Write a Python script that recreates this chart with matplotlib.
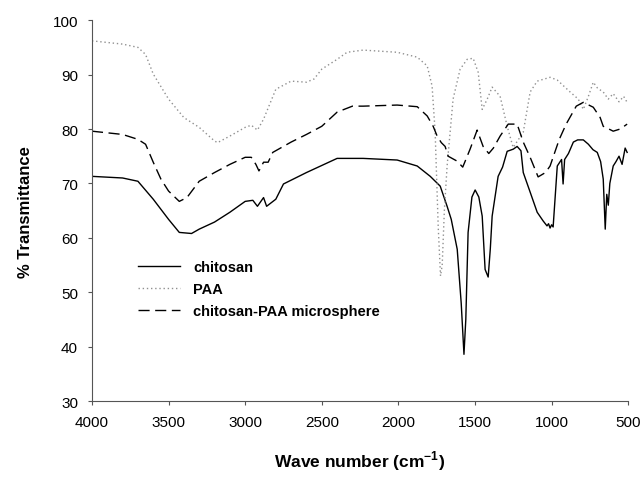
import matplotlib.pyplot as plt

plt.rcParams['font.family'] = ['Liberation Sans', 'DejaVu Sans']
plt.rcParams['mathtext.fontset'] = 'custom'
plt.rcParams['mathtext.bf'] = 'Liberation Sans:bold'

# chitosan (solid)
chit_w = [4000, 3800, 3700, 3600, 3500, 3430, 3350, 3300, 3200, 3100, 3000, 2950, 2920, 2880,
          2860, 2800, 2750, 2600, 2500, 2400, 2300, 2230, 2008, 1877, 1792, 1727, 1682, 1655,
          1616, 1590, 1572, 1560, 1545, 1520, 1499, 1475, 1453, 1434, 1414, 1400, 1388, 1349,
          1320, 1290, 1250, 1225, 1200, 1185, 1140, 1094, 1055, 1030, 1020, 1010, 1000, 990,
          963, 935, 925, 915, 890, 858, 830, 793, 760, 730, 702, 680, 663, 650, 640, 630, 620,
          598, 580, 560, 540, 520, 507]
chit_t = [71.3, 71.0, 70.4, 67.1, 63.4, 61.0, 60.8, 61.6, 62.9, 64.7, 66.7, 66.9, 65.8, 67.4,
          65.8, 67.1, 69.9, 72.0, 73.3, 74.6, 74.6, 74.6, 74.3, 73.2, 71.3, 69.5, 65.8, 63.4,
          57.9, 48.0, 38.6, 45.0, 61.0, 67.5, 68.8, 67.5, 64.0, 54.2, 52.8, 58.0, 64.0, 71.3,
          73.0, 75.9, 76.3, 76.8, 76.0, 72.0, 68.4, 64.7, 63.1, 62.2, 62.6, 61.8, 62.4, 62.0,
          73.2, 74.4, 69.9, 74.4, 75.5, 77.6, 78.0, 78.0, 77.2, 76.2, 75.7, 74.0, 70.8, 61.6,
          68.0, 66.0, 70.0, 73.2, 74.0, 75.0, 73.5, 76.5, 75.7]

# PAA (dotted)
paa_w = [4000, 3800, 3700, 3650, 3600, 3500, 3400, 3300, 3200, 3180, 3100, 3000, 2960, 2920,
         2880, 2800, 2700, 2600, 2550, 2500, 2400, 2335, 2230, 2008, 1877, 1812, 1780, 1760,
         1740, 1725, 1714, 1700, 1682, 1643, 1597, 1551, 1512, 1479, 1453, 1420, 1388, 1336,
         1290, 1251, 1185, 1140, 1094, 1010, 963, 879, 826, 793, 760, 728, 700, 663, 630, 598,
         560, 530, 507]
paa_t = [96.2, 95.6, 95.0, 93.7, 90.1, 85.5, 82.1, 80.3, 77.8, 77.5, 78.7, 80.3, 80.7, 79.8,
         81.8, 87.3, 88.8, 88.6, 89.2, 91.0, 92.8, 94.1, 94.5, 94.1, 93.2, 91.6, 87.9, 79.4,
         62.0, 53.0, 55.0, 65.0, 73.2, 85.5, 91.0, 92.8, 93.0, 90.4, 83.6, 85.5, 87.7, 86.0,
         80.5, 76.6, 79.4, 86.8, 88.8, 89.5, 89.0, 86.8, 85.5, 83.6, 86.0, 88.6, 87.5, 86.8,
         85.5, 86.5, 85.0, 86.0, 84.9]

# chitosan-PAA microsphere (dashed)
mic_w = [4000, 3800, 3700, 3650, 3600, 3550, 3500, 3430, 3380, 3300, 3200, 3100, 3000, 2960,
         2930, 2910, 2880, 2850, 2820, 2700, 2600, 2500, 2400, 2300, 2230, 2008, 1877, 1812,
         1773, 1747, 1720, 1695, 1675, 1617, 1580, 1532, 1486, 1447, 1410, 1380, 1336, 1283,
         1225, 1185, 1140, 1088, 1040, 1010, 950, 905, 839, 793, 728, 683, 663, 640, 598, 552,
         507]
mic_t = [79.6, 79.0, 78.1, 77.2, 73.9, 70.8, 68.6, 66.7, 67.4, 70.4, 72.0, 73.5, 74.8, 74.8,
         73.5, 72.3, 73.9, 73.9, 75.7, 77.6, 79.0, 80.5, 83.1, 84.2, 84.2, 84.4, 84.1, 82.4,
         80.5, 78.7, 77.5, 76.8, 75.0, 74.1, 73.0, 76.3, 79.8, 76.8, 75.5, 76.5, 78.7, 80.9,
         80.9, 77.6, 74.8, 71.2, 72.0, 73.2, 78.1, 80.9, 84.2, 84.9, 84.0, 82.1, 80.5, 80.2,
         79.6, 80.0, 80.9]

fig = plt.figure(figsize=(6.43, 4.81), dpi=100)
ax = fig.add_axes([0.143, 0.164, 0.834, 0.792])

ax.plot(chit_w, chit_t, color='black', lw=1.0, label='chitosan')
ax.plot(paa_w, paa_t, color='#909090', lw=1.0, ls=(0, (1, 2)), label='PAA')
ax.plot(mic_w, mic_t, color='black', lw=1.0, ls=(0, (8, 4)), label='chitosan-PAA microsphere')

ax.set_xlim(4000, 500)
ax.set_ylim(30, 100)
ax.set_xticks([4000, 3500, 3000, 2500, 2000, 1500, 1000, 500])
ax.set_yticks(range(30, 101, 10))

for side in ['top', 'right']:
    ax.spines[side].set_visible(False)
for side in ['left', 'bottom']:
    ax.spines[side].set_color('#555555')
    ax.spines[side].set_linewidth(0.8)
ax.tick_params(direction='out', length=3, width=0.8, color='#555555', labelsize=11, pad=7)

ax.set_xlabel('Wave number (cm$^{\\mathbf{-1}}$)', fontsize=12.5, fontweight='bold', labelpad=14)
ax.set_ylabel('% Transmittance', fontsize=12, fontweight='bold', labelpad=14)

leg = ax.legend(loc='upper left', bbox_to_anchor=(0.086, 0.37), frameon=False,
                prop={'weight': 'bold', 'size': 10.5}, handlelength=2.9, handletextpad=0.9,
                labelspacing=0.55, borderpad=0, borderaxespad=0)

fig.savefig('out.png', dpi=100)
